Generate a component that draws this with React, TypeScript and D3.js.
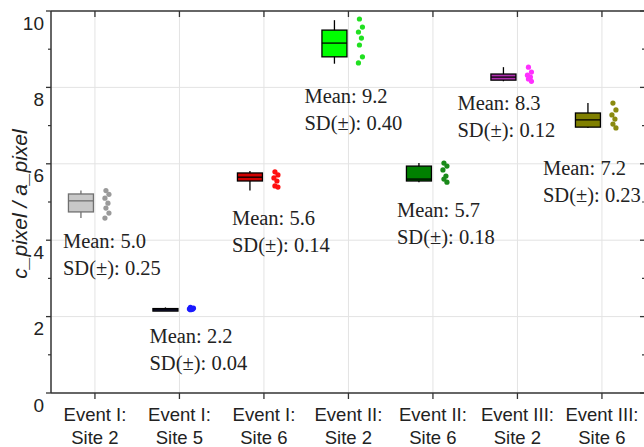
import React from "react";
import * as d3 from "d3";

const WIDTH = 644;
const HEIGHT = 447;

const categories = [
  ["Event I:", "Site 2"],
  ["Event I:", "Site 5"],
  ["Event I:", "Site 6"],
  ["Event II:", "Site 2"],
  ["Event II:", "Site 6"],
  ["Event III:", "Site 2"],
  ["Event III:", "Site 6"],
];

// box stats: [min, q1, median, q3, max]
const boxStats = [
  [4.58, 4.74, 5.03, 5.21, 5.3],
  [2.18, 2.19, 2.2, 2.21, 2.24],
  [5.3, 5.55, 5.65, 5.76, 5.81],
  [8.62, 8.8, 9.16, 9.5, 9.76],
  [5.52, 5.55, 5.6, 5.94, 6.02],
  [8.16, 8.19, 8.27, 8.35, 8.53],
  [6.94, 6.96, 7.15, 7.33, 7.59],
];

const samples = [
  [5.3, 5.2, 5.1, 4.97, 4.84, 4.71, 4.58],
  [2.24, 2.22, 2.2, 2.19, 2.18],
  [5.79, 5.71, 5.63, 5.55, 5.42, 5.39],
  [9.79, 9.58, 9.45, 9.29, 9.11, 8.8, 8.64],
  [6.02, 5.94, 5.84, 5.68, 5.6, 5.52],
  [8.53, 8.4, 8.32, 8.27, 8.22, 8.16],
  [7.59, 7.41, 7.28, 7.17, 7.04, 6.94],
];

const means = ["5.0", "2.2", "5.6", "9.2", "5.7", "8.3", "7.2"];
const sds = ["0.25", "0.04", "0.14", "0.40", "0.18", "0.12", "0.23"];

// where the "Mean" note sits (value units) and its x shift from the tick
const noteValue = [3.8, 1.31, 4.4, 7.59, 4.61, 7.41, 5.71];
const noteDx = [-32, -30, -32, -44, -36, -60, -59];

const boxFill = ["#c8c8c8", "#1a1a4a", "#d00000", "#00ff00", "#008000", "#b030b0", "#808000"];
const boxStroke = ["#707070", "#000000", "#000000", "#000000", "#000000", "#000000", "#000000"];
const dotFill = ["#9a9a9a", "#1a1aff", "#ff1010", "#20e020", "#1a8a1a", "#ff30ff", "#8a8a10"];

const jitter = [0, 3, -1, 2, 0, 3, -1];

const yTicks = [0, 2, 4, 6, 8, 10];
const yMinor = [1, 3, 5, 7, 9];

export default function App() {
  const left = 51;
  const top = 11;
  const bottom = 393;
  const right = 646;

  const y = d3.scaleLinear().domain([0, 10]).range([bottom, top]);
  const x = d3.scaleLinear().domain([-0.52, 6.5]).range([left, left + 7.02 * 84.5]);

  const boxW = 25;
  const boxShift = -14;
  const dotShift = 11;

  return (
    <svg
      width={WIDTH}
      height={HEIGHT}
      style={{ position: "absolute", left: 0, top: 0, background: "#fff" }}
      fontFamily="'Liberation Sans', Arial, sans-serif"
    >
      <rect x={0} y={0} width={WIDTH} height={HEIGHT} fill="#fff" />

      {/* grid */}
      {yTicks.filter((t) => t > 0 && t < 10).map((t) => (
        <line key={"gy" + t} x1={left} x2={right} y1={y(t)} y2={y(t)} stroke="#e3e3e3" strokeWidth={1} />
      ))}
      {categories.map((_, i) => (
        <line key={"gx" + i} x1={x(i)} x2={x(i)} y1={top} y2={bottom} stroke="#e3e3e3" strokeWidth={1} />
      ))}

      {/* boxes */}
      {boxStats.map((s, i) => {
        const cx = x(i) + boxShift;
        const [mn, q1, md, q3, mx] = s;
        return (
          <g key={"b" + i}>
            <line x1={cx} x2={cx} y1={y(mx)} y2={y(mn)} stroke={boxStroke[i]} strokeWidth={1.3} />
            <rect
              x={cx - boxW / 2}
              y={y(q3)}
              width={boxW}
              height={Math.max(2.5, y(q1) - y(q3))}
              fill={boxFill[i]}
              stroke={boxStroke[i]}
              strokeWidth={1.3}
            />
            <line x1={cx - boxW / 2} x2={cx + boxW / 2} y1={y(md)} y2={y(md)} stroke={boxStroke[i]} strokeWidth={1.3} />
          </g>
        );
      })}

      {/* points */}
      {samples.map((vals, i) =>
        vals.map((v, j) => (
          <circle key={"p" + i + "-" + j} cx={x(i) + dotShift + jitter[j % jitter.length]} cy={y(v)} r={2.6} fill={dotFill[i]} />
        ))
      )}

      {/* notes */}
      {means.map((m, i) => (
        <g key={"n" + i} fontFamily="'Liberation Serif', 'Times New Roman', serif" fontSize={20.5} fill="#222">
          <text x={x(i) + noteDx[i]} y={y(noteValue[i])}>Mean: {m}</text>
          <text x={x(i) + noteDx[i]} y={y(noteValue[i]) + 27}>SD(±): {sds[i]}</text>
        </g>
      ))}

      {/* spines */}
      <line x1={left} x2={left} y1={top} y2={bottom} stroke="#333" strokeWidth={1.5} />
      <line x1={left} x2={right} y1={top} y2={top} stroke="#333" strokeWidth={1.5} />
      <line x1={left} x2={right} y1={bottom} y2={bottom} stroke="#333" strokeWidth={1.5} />
      <line x1={right} x2={right} y1={top} y2={bottom} stroke="#333" strokeWidth={1.5} />

      {/* y ticks */}
      {yTicks.map((t) => (
        <g key={"yt" + t}>
          <line x1={left - 5} x2={left} y1={y(t)} y2={y(t)} stroke="#333" strokeWidth={1.3} />
          <line x1={right - 6} x2={right} y1={y(t)} y2={y(t)} stroke="#333" strokeWidth={1.3} />
          <text x={44} y={y(t) + 12} dy="0.35em" textAnchor="end" fontSize={19} fill="#222">
            {t}
          </text>
        </g>
      ))}
      {yMinor.map((t) => (
        <g key={"ym" + t}>
          <line x1={left - 3} x2={left} y1={y(t)} y2={y(t)} stroke="#333" strokeWidth={1.2} />
          <line x1={right - 4} x2={right} y1={y(t)} y2={y(t)} stroke="#333" strokeWidth={1.2} />
        </g>
      ))}

      {/* x ticks */}
      {categories.map((c, i) => (
        <g key={"xt" + i}>
          <line x1={x(i)} x2={x(i)} y1={bottom} y2={bottom + 6} stroke="#333" strokeWidth={1.3} />
          <line x1={x(i)} x2={x(i)} y1={top} y2={top + 6} stroke="#333" strokeWidth={1.3} />
          <text x={x(i)} y={421} textAnchor="middle" fontSize={18.5} fill="#222">
            {c[0]}
          </text>
          <text x={x(i)} y={444} textAnchor="middle" fontSize={18.5} fill="#222">
            {c[1]}
          </text>
        </g>
      ))}

      <text
        transform={`translate(27,204) rotate(-90)`}
        textAnchor="middle"
        fontSize={21}
        fontStyle="italic"
        fill="#222"
      >
        c_pixel / a_pixel
      </text>
    </svg>
  );
}
